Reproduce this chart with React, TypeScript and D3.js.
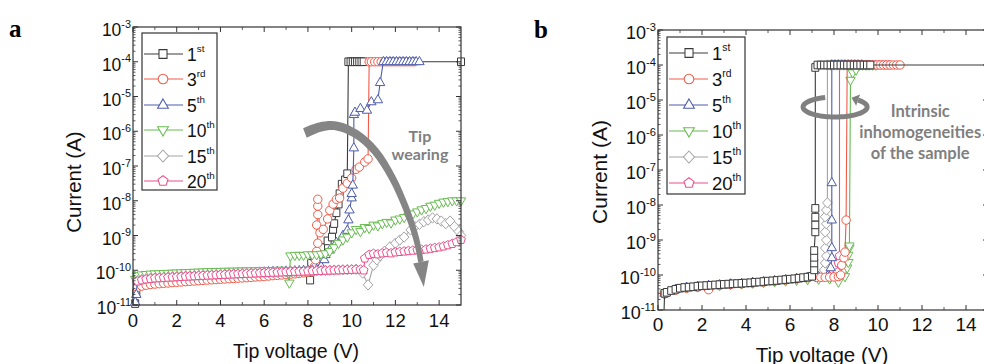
import React from 'react';
import * as d3 from 'd3';

type Pt = [number, number];

// ---------- shared labels ----------
const legendMain = ['1', '3', '5', '10', '15', '20'];
const legendSup = ['st', 'rd', 'th', 'th', 'th', 'th'];
const seriesColors = ['#3a3a3a', '#f15a48', '#4c5cab', '#66bb4f', '#a3a3a3', '#ec4f8c'];
const seriesShapes = ['square', 'circle', 'triangle', 'triangleDown', 'diamond', 'pentagon'];
const yTickExps = [-3, -4, -5, -6, -7, -8, -9, -10, -11];
const xTickValues = [0, 2, 4, 6, 8, 10, 12, 14];

// ---------- panel a data (V, A) ----------
const aFirst: Pt[] = [
  [0.1, 1.1e-11], [0.15, 2.2e-11], [0.2, 4.6e-11], [0.4, 5.0e-11], [0.6, 5.3e-11], [0.8, 5.5e-11], [1.0, 5.7e-11],
  [1.2, 5.8e-11], [1.4, 6.0e-11], [1.6, 6.1e-11], [1.8, 6.2e-11], [2.0, 6.3e-11], [2.2, 6.4e-11], [2.4, 6.5e-11],
  [2.6, 6.6e-11], [2.8, 6.7e-11], [3.0, 6.8e-11], [3.2, 6.9e-11], [3.4, 7.0e-11], [3.6, 7.1e-11], [3.8, 7.2e-11],
  [4.0, 7.3e-11], [4.2, 7.4e-11], [4.4, 7.5e-11], [4.6, 7.6e-11], [4.8, 7.7e-11], [5.0, 7.8e-11], [5.2, 7.9e-11],
  [5.4, 8.0e-11], [5.6, 8.1e-11], [5.8, 8.2e-11], [6.0, 8.3e-11], [6.2, 8.4e-11], [6.4, 8.5e-11], [6.6, 8.6e-11],
  [6.8, 8.7e-11], [7.0, 8.8e-11], [7.2, 8.9e-11], [7.4, 9.0e-11], [7.6, 9.1e-11], [7.8, 9.3e-11], [8.0, 9.5e-11],
  [8.1, 5.2e-11], [8.15, 1.6e-10], [8.3, 2.4e-10], [8.6, 4.5e-10], [8.9, 7e-10], [9.1, 9e-10], [9.15, 1.5e-9],
  [9.2, 2.2e-9], [9.3, 4.5e-9], [9.4, 8e-9], [9.45, 1.6e-8], [9.55, 3e-8], [9.7, 4e-8], [9.8, 6e-8],
  [9.85, 1e-4], [9.95, 1e-4], [10.05, 1e-4], [10.15, 1e-4], [10.25, 1e-4], [10.35, 1e-4], [10.45, 1e-4],
  [10.55, 1e-4], [15, 1e-4],
];
const aThird: Pt[] = [
  [0.2, 3.2e-11], [0.4, 3.5e-11], [0.6, 3.7e-11], [0.8, 3.9e-11], [1.0, 4.0e-11], [1.2, 4.1e-11], [1.4, 4.2e-11],
  [1.6, 4.3e-11], [1.8, 4.4e-11], [2.0, 4.5e-11], [2.2, 4.6e-11], [2.4, 4.7e-11], [2.6, 4.8e-11], [2.8, 4.9e-11],
  [3.0, 5.0e-11], [3.2, 5.1e-11], [3.4, 5.2e-11], [3.6, 5.3e-11], [3.8, 5.4e-11], [4.0, 5.5e-11], [4.2, 5.6e-11],
  [4.4, 5.7e-11], [4.6, 5.8e-11], [4.8, 5.9e-11], [5.0, 6.0e-11], [5.2, 6.1e-11], [5.4, 6.2e-11], [5.6, 6.4e-11],
  [5.8, 6.5e-11], [6.0, 6.6e-11], [6.2, 6.8e-11], [6.4, 7.0e-11], [6.6, 7.1e-11], [6.8, 7.3e-11], [7.0, 7.5e-11],
  [7.2, 7.7e-11], [7.4, 7.9e-11], [7.6, 8.1e-11], [7.8, 8.4e-11], [8.0, 8.7e-11], [8.2, 9.0e-11],
  [8.3, 1.3e-10], [8.35, 2.0e-10], [8.4, 3.5e-10], [8.45, 6e-10], [8.4, 2e-9], [8.45, 4e-9], [8.45, 7e-9],
  [8.45, 1.1e-8], [8.55, 1.2e-9], [8.7, 1.5e-9], [8.9, 3e-9], [9.0, 5.3e-9], [9.15, 8e-9], [9.3, 1.1e-8],
  [9.45, 1.2e-8], [9.6, 2.3e-8], [9.8, 3.2e-8], [10.0, 4.5e-8], [10.2, 8e-8], [10.35, 9.3e-8], [10.6, 1.3e-7],
  [10.75, 1.6e-7], [10.8, 1e-4], [10.9, 1e-4], [11.05, 1e-4], [11.2, 1e-4], [11.35, 1e-4], [11.5, 1e-4],
  [11.65, 1e-4], [11.8, 1e-4], [11.95, 1e-4], [12.1, 1e-4], [12.25, 1e-4], [12.4, 1e-4], [12.55, 1e-4],
  [12.7, 1e-4], [12.85, 1e-4],
];
const aFifth: Pt[] = [
  [0.1, 1.2e-11], [0.15, 2.0e-11], [0.2, 5.5e-11], [0.4, 5.9e-11], [0.6, 6.1e-11], [0.8, 6.3e-11], [1.0, 6.4e-11],
  [1.2, 6.5e-11], [1.4, 6.6e-11], [1.6, 6.7e-11], [1.8, 6.8e-11], [2.0, 6.9e-11], [2.2, 7.0e-11], [2.4, 7.1e-11],
  [2.6, 7.2e-11], [2.8, 7.3e-11], [3.0, 7.4e-11], [3.2, 7.5e-11], [3.4, 7.6e-11], [3.6, 7.7e-11], [3.8, 7.8e-11],
  [4.0, 7.9e-11], [4.2, 8.0e-11], [4.4, 8.1e-11], [4.6, 8.2e-11], [4.8, 8.3e-11], [5.0, 8.4e-11], [5.2, 8.5e-11],
  [5.4, 8.6e-11], [5.6, 8.7e-11], [5.8, 8.8e-11], [6.0, 8.9e-11], [6.2, 9.0e-11], [6.4, 9.1e-11], [6.6, 9.2e-11],
  [6.8, 9.3e-11], [7.0, 9.4e-11], [7.2, 9.5e-11], [7.4, 9.6e-11], [7.6, 9.7e-11], [7.8, 9.8e-11], [8.0, 1.0e-10],
  [8.2, 1.02e-10], [8.4, 1.05e-10], [8.6, 1.3e-10], [8.75, 2e-10], [8.8, 2.8e-10], [9.0, 3.8e-10], [9.3, 6.3e-10],
  [9.6, 1e-9], [9.8, 1.4e-9], [9.85, 2.8e-9], [9.9, 5.4e-9], [10.0, 1.2e-8], [10.0, 1.6e-8], [10.05, 2.8e-8],
  [10.1, 3.3e-7], [10.1, 3e-6], [10.15, 3.5e-6], [10.4, 4.5e-6], [10.7, 4e-6], [10.9, 7e-6], [11.2, 8e-6],
  [11.3, 2.5e-5], [11.45, 1e-4], [11.6, 1e-4], [11.75, 1e-4], [11.9, 1e-4], [12.05, 1e-4], [12.2, 1e-4],
  [12.35, 1e-4], [12.5, 1e-4], [12.65, 1e-4], [12.8, 1e-4], [12.95, 1e-4], [13.1, 1e-4],
];
const aTenth: Pt[] = [
  [0.1, 5.5e-11], [0.2, 7.0e-11], [0.4, 7.4e-11], [0.6, 7.6e-11], [0.8, 7.8e-11], [1.0, 7.9e-11], [1.2, 8.0e-11],
  [1.4, 8.1e-11], [1.6, 8.2e-11], [1.8, 8.3e-11], [2.0, 8.4e-11], [2.2, 8.5e-11], [2.4, 8.6e-11], [2.6, 8.7e-11],
  [2.8, 8.8e-11], [3.0, 8.9e-11], [3.2, 9.0e-11], [3.4, 9.1e-11], [3.6, 9.2e-11], [3.8, 9.3e-11], [4.0, 9.3e-11],
  [4.2, 9.4e-11], [4.4, 9.4e-11], [4.6, 9.5e-11], [4.8, 9.5e-11], [5.0, 9.6e-11], [5.2, 9.6e-11], [5.4, 9.7e-11],
  [5.6, 9.7e-11], [5.8, 9.8e-11], [6.0, 9.8e-11], [6.2, 9.9e-11], [6.4, 9.9e-11], [6.6, 1.0e-10], [6.8, 1.0e-10],
  [7.0, 1.0e-10], [7.15, 4.3e-11], [7.2, 2.6e-10], [7.4, 2.7e-10], [7.6, 2.7e-10], [7.8, 2.7e-10], [8.0, 2.8e-10],
  [8.2, 2.8e-10], [8.4, 2.8e-10], [8.6, 2.9e-10], [8.8, 3.0e-10], [9.0, 3.5e-10], [9.2, 4.5e-10], [9.4, 6e-10],
  [9.6, 7.5e-10], [9.8, 9e-10], [10.0, 1.2e-9], [10.2, 1.5e-9], [10.4, 1.3e-9], [10.6, 1.7e-9], [10.8, 1.6e-9],
  [11.0, 2.0e-9], [11.2, 1.9e-9], [11.4, 2.2e-9], [11.6, 2.4e-9], [11.8, 2.3e-9], [12.0, 2.8e-9], [12.2, 3.0e-9],
  [12.4, 3.3e-9], [12.6, 3.6e-9], [12.8, 4.2e-9], [13.0, 4.8e-9], [13.2, 5.5e-9], [13.4, 6.0e-9], [13.6, 7.0e-9],
  [13.8, 7.5e-9], [14.0, 8.5e-9], [14.2, 9.2e-9], [14.4, 9.5e-9], [14.6, 1e-8], [14.8, 1e-8], [15.0, 1e-8],
];
const aFifteenth: Pt[] = [
  [0.2, 5.0e-11], [0.4, 5.4e-11], [0.6, 5.7e-11], [0.8, 5.9e-11], [1.0, 6.0e-11], [1.2, 6.1e-11], [1.4, 6.2e-11],
  [1.6, 6.3e-11], [1.8, 6.4e-11], [2.0, 6.5e-11], [2.2, 6.6e-11], [2.4, 6.7e-11], [2.6, 6.8e-11], [2.8, 6.9e-11],
  [3.0, 7.0e-11], [3.2, 7.1e-11], [3.4, 7.2e-11], [3.6, 7.3e-11], [3.8, 7.4e-11], [4.0, 7.5e-11], [4.2, 7.6e-11],
  [4.4, 7.7e-11], [4.6, 7.8e-11], [4.8, 7.9e-11], [5.0, 8.0e-11], [5.2, 8.1e-11], [5.4, 8.2e-11], [5.6, 8.3e-11],
  [5.8, 8.4e-11], [6.0, 8.5e-11], [6.2, 8.6e-11], [6.4, 8.7e-11], [6.6, 8.8e-11], [6.8, 8.9e-11], [7.0, 9.0e-11],
  [7.2, 9.1e-11], [7.4, 9.2e-11], [7.6, 9.3e-11], [7.8, 9.4e-11], [8.0, 9.5e-11], [8.2, 9.6e-11], [8.4, 9.7e-11],
  [8.6, 9.8e-11], [8.8, 9.9e-11], [9.0, 1.0e-10], [9.2, 1.01e-10], [9.4, 1.02e-10], [9.6, 1.03e-10], [9.8, 1.04e-10],
  [10.0, 1.05e-10], [10.2, 1.06e-10], [10.5, 8.3e-11], [10.75, 3.8e-11], [11.0, 1.4e-10], [11.15, 2.0e-10],
  [11.3, 2.6e-10], [11.5, 3.5e-10], [11.75, 4.7e-10], [12.0, 6.0e-10], [12.2, 7.4e-10], [12.4, 9.0e-10],
  [12.7, 1.45e-9], [12.9, 1.8e-9], [13.1, 2.1e-9], [13.3, 2.5e-9], [13.5, 2.8e-9], [13.7, 3.2e-9], [13.9, 3.0e-9],
  [14.1, 2.6e-9], [14.3, 2.2e-9], [14.5, 2.6e-9], [14.7, 1.8e-9], [14.9, 1.3e-9], [15.0, 1.0e-9],
];
const aTwentieth: Pt[] = [
  [0.2, 4.8e-11], [0.4, 5.2e-11], [0.6, 5.5e-11], [0.8, 5.7e-11], [1.0, 5.9e-11], [1.2, 6.0e-11], [1.4, 6.1e-11],
  [1.6, 6.2e-11], [1.8, 6.3e-11], [2.0, 6.4e-11], [2.2, 6.5e-11], [2.4, 6.6e-11], [2.6, 6.7e-11], [2.8, 6.8e-11],
  [3.0, 6.9e-11], [3.2, 7.0e-11], [3.4, 7.1e-11], [3.6, 7.2e-11], [3.8, 7.3e-11], [4.0, 7.4e-11], [4.2, 7.5e-11],
  [4.4, 7.6e-11], [4.6, 7.7e-11], [4.8, 7.8e-11], [5.0, 7.9e-11], [5.2, 8.0e-11], [5.4, 8.1e-11], [5.6, 8.2e-11],
  [5.8, 8.3e-11], [6.0, 8.4e-11], [6.2, 8.5e-11], [6.4, 8.6e-11], [6.6, 8.7e-11], [6.8, 8.8e-11], [7.0, 8.9e-11],
  [7.2, 9.0e-11], [7.4, 9.1e-11], [7.6, 9.2e-11], [7.8, 9.3e-11], [8.0, 9.4e-11], [8.2, 9.5e-11], [8.4, 9.6e-11],
  [8.6, 9.7e-11], [8.8, 9.8e-11], [9.0, 9.9e-11], [9.2, 1.0e-10], [9.4, 1.01e-10], [9.6, 1.02e-10], [9.8, 1.03e-10],
  [10.0, 1.04e-10], [10.2, 1.05e-10], [10.4, 1.05e-10], [10.55, 1.0e-10], [10.6, 2.2e-10], [10.8, 2.8e-10],
  [11.0, 3.0e-10], [11.2, 2.9e-10], [11.4, 3.1e-10], [11.6, 3.2e-10], [11.8, 3.1e-10], [12.0, 3.3e-10],
  [12.2, 3.4e-10], [12.4, 3.5e-10], [12.6, 3.6e-10], [12.8, 3.7e-10], [13.0, 3.8e-10], [13.2, 3.9e-10],
  [13.4, 4.0e-10], [13.6, 4.2e-10], [13.8, 4.4e-10], [14.0, 4.6e-10], [14.2, 4.9e-10], [14.4, 5.3e-10],
  [14.6, 5.8e-10], [14.8, 6.5e-10], [15.0, 7.5e-10],
];

// ---------- panel b data (V, A) ----------
const bFirst: Pt[] = [
  [0.25, 3e-12], [0.3, 3.0e-11], [0.4, 3.2e-11], [0.6, 3.6e-11], [0.8, 3.9e-11], [1.0, 4.2e-11], [1.2, 4.4e-11],
  [1.4, 4.5e-11], [1.6, 4.6e-11], [1.8, 4.8e-11], [2.0, 4.9e-11], [2.2, 5.0e-11], [2.4, 5.1e-11], [2.6, 5.2e-11],
  [2.8, 5.3e-11], [3.0, 5.4e-11], [3.2, 5.5e-11], [3.4, 5.6e-11], [3.6, 5.7e-11], [3.8, 5.8e-11], [4.0, 5.9e-11],
  [4.2, 6.0e-11], [4.4, 6.2e-11], [4.6, 6.3e-11], [4.8, 6.5e-11], [5.0, 6.7e-11], [5.2, 6.8e-11], [5.4, 7.0e-11],
  [5.6, 7.2e-11], [5.8, 7.4e-11], [6.0, 7.6e-11], [6.2, 7.8e-11], [6.4, 8.1e-11], [6.6, 8.4e-11], [6.8, 8.7e-11],
  [7.0, 9.2e-11], [7.1, 1.4e-10], [7.1, 2.2e-10], [7.1, 3.2e-10], [7.1, 5e-10], [7.15, 1.7e-9], [7.15, 2.7e-9],
  [7.15, 4.5e-9], [7.15, 8e-9], [7.15, 8.5e-5], [7.25, 1e-4], [7.4, 1e-4], [7.55, 1e-4], [7.7, 1e-4], [7.85, 1e-4],
  [8.0, 1e-4], [8.15, 1e-4], [8.3, 1e-4], [8.45, 1e-4], [8.6, 1e-4], [8.75, 1e-4], [8.9, 1e-4], [9.05, 1e-4],
  [9.2, 1e-4], [9.35, 1e-4], [9.5, 1e-4], [9.65, 1e-4], [15, 1e-4],
];
const bThird: Pt[] = [
  [0.3, 2.9e-11], [0.8, 3.7e-11], [1.3, 4.2e-11], [1.8, 4.5e-11], [2.3, 3.8e-11], [2.8, 5.1e-11], [3.3, 5.4e-11],
  [3.8, 5.6e-11], [4.3, 5.9e-11], [4.8, 6.3e-11], [5.3, 6.7e-11], [5.8, 7.2e-11], [6.3, 7.8e-11], [6.8, 8.4e-11],
  [7.2, 8.5e-11], [7.4, 8.6e-11], [7.6, 8.6e-11], [7.8, 8.7e-11], [8.0, 8.8e-11], [8.2, 9.0e-11], [8.3, 1.0e-10],
  [8.35, 1.9e-10], [8.45, 3.1e-10], [8.5, 4.5e-10], [8.55, 3.7e-9], [8.6, 1e-4], [8.75, 1e-4], [8.9, 1e-4],
  [9.05, 1e-4], [9.2, 1e-4], [9.35, 1e-4], [9.5, 1e-4], [9.65, 1e-4], [9.8, 1e-4], [9.95, 1e-4], [10.1, 1e-4],
  [10.25, 1e-4], [10.4, 1e-4], [10.55, 1e-4], [10.7, 1e-4], [10.85, 1e-4], [11.0, 1e-4],
];
const bFifth: Pt[] = [
  [0.3, 3.0e-11], [0.8, 3.9e-11], [1.3, 4.4e-11], [1.8, 4.7e-11], [2.3, 5.0e-11], [2.8, 5.2e-11], [3.3, 5.5e-11],
  [3.8, 5.7e-11], [4.3, 6.1e-11], [4.8, 6.4e-11], [5.3, 6.8e-11], [5.8, 7.3e-11], [6.3, 7.9e-11], [6.8, 8.6e-11],
  [7.3, 8.9e-11], [7.7, 9.2e-11], [7.85, 1.6e-10], [7.9, 3.1e-10], [7.9, 6e-10], [7.9, 3.7e-9], [7.9, 4.3e-8],
  [7.9, 1e-4], [8.05, 1e-4], [8.2, 1e-4], [8.35, 1e-4], [8.5, 1e-4], [8.65, 1e-4], [8.8, 1e-4], [8.95, 1e-4],
  [9.1, 1e-4], [9.25, 1e-4],
];
const bTenth: Pt[] = [
  [0.3, 2.9e-11], [0.8, 3.8e-11], [1.3, 4.3e-11], [1.8, 4.6e-11], [2.3, 4.9e-11], [2.8, 5.1e-11], [3.3, 5.4e-11],
  [3.8, 5.6e-11], [4.3, 5.9e-11], [4.8, 6.2e-11], [5.3, 6.5e-11], [5.8, 6.8e-11], [6.3, 7.1e-11], [6.8, 7.4e-11],
  [7.3, 7.6e-11], [7.8, 7.8e-11], [8.2, 6.3e-11], [8.5, 9e-11], [8.6, 1.6e-10], [8.65, 2.3e-10], [8.65, 3.7e-10],
  [8.7, 5.9e-10], [8.7, 6.8e-10], [8.75, 3.7e-5], [8.85, 6e-5], [9.0, 7.2e-5], [9.15, 1e-4], [9.3, 1e-4],
  [9.45, 1e-4], [9.6, 1e-4], [9.75, 1e-4], [9.9, 1e-4],
];
const bFifteenth: Pt[] = [
  [0.3, 3.0e-11], [0.8, 3.9e-11], [1.3, 4.4e-11], [1.8, 4.7e-11], [2.3, 5.0e-11], [2.8, 5.2e-11], [3.3, 5.5e-11],
  [3.8, 5.7e-11], [4.3, 6.1e-11], [4.8, 6.4e-11], [5.3, 6.8e-11], [5.8, 7.3e-11], [6.3, 7.9e-11], [6.8, 8.6e-11],
  [7.3, 8.9e-11], [7.5, 9.1e-11], [7.55, 1.4e-10], [7.6, 2.2e-10], [7.65, 3.5e-10], [7.6, 5.9e-10], [7.65, 1e-9],
  [7.6, 1.7e-9], [7.65, 2.9e-9], [7.6, 4.6e-9], [7.65, 7.2e-9], [7.7, 1.15e-8], [7.7, 1e-4], [7.85, 1e-4],
  [8.0, 1e-4], [8.15, 1e-4], [8.3, 1e-4], [8.45, 1e-4], [8.6, 1e-4], [8.75, 1e-4], [8.9, 1e-4], [9.05, 1e-4],
];
const bTwentieth: Pt[] = [
  [0.3, 3.0e-11], [0.8, 3.9e-11], [1.3, 4.4e-11], [1.8, 4.7e-11], [2.3, 5.0e-11], [2.8, 5.2e-11], [3.3, 5.5e-11],
  [3.8, 5.7e-11], [4.3, 6.1e-11], [4.8, 6.4e-11], [5.3, 6.8e-11], [5.8, 7.3e-11], [6.3, 7.9e-11], [6.8, 8.5e-11],
  [7.3, 8.8e-11], [7.8, 9.0e-11], [8.0, 9.1e-11], [8.15, 1.2e-10], [8.2, 2.2e-10], [8.25, 3.5e-10], [8.25, 1e-4],
  [8.4, 1e-4], [8.55, 1e-4], [8.7, 1e-4], [8.85, 1e-4], [9.0, 1e-4], [9.15, 1e-4], [9.3, 1e-4], [9.45, 1e-4],
  [9.6, 1e-4], [9.75, 1e-4], [9.9, 1e-4], [10.05, 1e-4], [10.2, 1e-4], [10.35, 1e-4], [10.5, 1e-4],
];

// ---------- annotations (data coordinates: V, log10 I) ----------
const wearArrowV = [7.86, 8.55, 9.33, 10.2, 11.07, 11.84, 12.48, 12.94, 13.17];
const wearArrowLogI = [-6.05, -5.88, -5.85, -6.08, -6.57, -7.32, -8.21, -9.07, -9.76];
const wearArrowTip: [number, number] = [13.3, -10.48];
const wearText = ['Tip', 'wearing'];
const wearTextPos: [number, number][] = [[13.12, -6.31], [13.12, -6.84]];
const ringCenter: [number, number] = [8.05, -5.2];
const inhomText = ['Intrinsic', 'inhomogeneities', 'of the sample'];
const inhomTextPos: [number, number][] = [[11.92, -5.49], [11.92, -6.09], [11.92, -6.69]];

function markerPath(shape: string): string {
  switch (shape) {
    case 'square':
      return 'M-3.5,-3.8H3.5V3.8H-3.5Z';
    case 'circle':
      return 'M4.2,0A4.2,4.2 0 1 1 -4.2,0A4.2,4.2 0 1 1 4.2,0Z';
    case 'triangle':
      return 'M0,-5.3L4.7,2.9L-4.7,2.9Z';
    case 'triangleDown':
      return 'M0,5.3L4.7,-2.9L-4.7,-2.9Z';
    case 'diamond':
      return 'M0,-5.2L4.8,0L0,5.2L-4.8,0Z';
    default: {
      const r = 4.6;
      const pts = d3.range(5).map((k) => {
        const a = ((-90 + 72 * k) * Math.PI) / 180;
        return [r * Math.cos(a), r * Math.sin(a)];
      });
      return 'M' + pts.map((p) => p[0].toFixed(2) + ',' + p[1].toFixed(2)).join('L') + 'Z';
    }
  }
}

interface PanelCfg {
  id: string;
  letter: string;
  letterX: number;
  letterY: number;
  left: number;
  right: number;
  top: number;
  bottom: number;
  yLabelRight: number;
  xLabelBaseline: number;
  yTitleX: number;
  yTitleY: number;
  xTitleX: number;
  xTitleY: number;
  titleSize: number;
  yTitleSize: number;
  tickSize: number;
  legend: { x: number; y: number; w: number; h: number; l1: number; l2: number; mx: number; tx: number; rows: number[]; fs: number };
  series: Pt[][];
  order: number[];
}

const FONT = 'Arial, "Liberation Sans", Helvetica, sans-serif';
const NOTE_FONT = 'Lato, "Open Sans", sans-serif';
const AXIS_COLOR = '#333';
const NOTE_COLOR = '#7f7f7f';

function Panel({ cfg, children }: { cfg: PanelCfg; children?: (x: any, y: any) => React.ReactNode }) {
  const x = d3.scaleLinear().domain([0, 15]).range([cfg.left, cfg.right]);
  const y = d3.scaleLog().domain([1e-11, 1e-3]).range([cfg.bottom, cfg.top]);
  const line = d3
    .line<Pt>()
    .x((d) => x(d[0]))
    .y((d) => y(d[1]));

  const minorY: number[] = [];
  for (let e = -11; e < -3; e++) for (let m = 2; m <= 9; m++) minorY.push(m * Math.pow(10, e));
  const minorX = d3.range(1, 15, 2);

  const lineClip = `lc-${cfg.id}`;
  const markClip = `mc-${cfg.id}`;

  return (
    <g>
      <defs>
        <clipPath id={lineClip}>
          <rect x={cfg.left} y={cfg.top} width={cfg.right - cfg.left} height={cfg.bottom - cfg.top} />
        </clipPath>
        <clipPath id={markClip}>
          <rect x={cfg.left - 7} y={cfg.top - 7} width={cfg.right - cfg.left + 14} height={cfg.bottom - cfg.top + 14} />
        </clipPath>
      </defs>
      <text x={cfg.letterX} y={cfg.letterY} fontFamily='"Times New Roman", "Liberation Serif", serif' fontWeight="bold" fontSize={25} fill="#000">
        {cfg.letter}
      </text>

      {/* series */}
      {cfg.order.map((i) => (
        <g key={i}>
          <path d={line(cfg.series[i]) || ''} fill="none" stroke={seriesColors[i]} strokeWidth={1.1} clipPath={`url(#${lineClip})`} />
          <g clipPath={`url(#${markClip})`}>
            {cfg.series[i].map((d, j) => (
              <path
                key={j}
                d={markerPath(seriesShapes[i])}
                transform={`translate(${x(d[0]).toFixed(2)},${y(d[1]).toFixed(2)})`}
                fill="#fff"
                stroke={seriesColors[i]}
                strokeWidth={1}
              />
            ))}
          </g>
        </g>
      ))}

      {children && children(x, y)}

      {/* frame */}
      <rect x={cfg.left} y={cfg.top} width={cfg.right - cfg.left} height={cfg.bottom - cfg.top} fill="none" stroke={AXIS_COLOR} strokeWidth={1.2} />
      {/* y ticks */}
      {yTickExps.map((e) => {
        const yy = y(Math.pow(10, e));
        return (
          <g key={'ym' + e}>
            <line x1={cfg.left} x2={cfg.left + 5} y1={yy} y2={yy} stroke={AXIS_COLOR} />
            <line x1={cfg.right} x2={cfg.right - 5} y1={yy} y2={yy} stroke={AXIS_COLOR} />
          </g>
        );
      })}
      {minorY.map((v, k) => {
        const yy = y(v);
        return (
          <g key={'yn' + k}>
            <line x1={cfg.left} x2={cfg.left + 2.5} y1={yy} y2={yy} stroke={AXIS_COLOR} strokeWidth={0.8} />
            <line x1={cfg.right} x2={cfg.right - 2.5} y1={yy} y2={yy} stroke={AXIS_COLOR} strokeWidth={0.8} />
          </g>
        );
      })}
      {/* x ticks */}
      {xTickValues.map((v) => (
        <g key={'xm' + v}>
          <line x1={x(v)} x2={x(v)} y1={cfg.bottom} y2={cfg.bottom - 5} stroke={AXIS_COLOR} />
          <line x1={x(v)} x2={x(v)} y1={cfg.top} y2={cfg.top + 5} stroke={AXIS_COLOR} />
        </g>
      ))}
      {minorX.map((v) => (
        <g key={'xn' + v}>
          <line x1={x(v)} x2={x(v)} y1={cfg.bottom} y2={cfg.bottom - 3} stroke={AXIS_COLOR} strokeWidth={0.8} />
          <line x1={x(v)} x2={x(v)} y1={cfg.top} y2={cfg.top + 3} stroke={AXIS_COLOR} strokeWidth={0.8} />
        </g>
      ))}

      {/* tick labels */}
      {yTickExps.map((e) => (
        <text key={'yl' + e} x={cfg.yLabelRight} y={y(Math.pow(10, e)) + 9} textAnchor="end" fontFamily={FONT} fontSize={cfg.tickSize} fill="#111">
          10
          <tspan dy={-8.5} fontSize={cfg.tickSize * 0.62}>
            {String(e)}
          </tspan>
        </text>
      ))}
      {xTickValues.map((v) => (
        <text key={'xl' + v} x={x(v)} y={cfg.xLabelBaseline} textAnchor="middle" fontFamily={FONT} fontSize={cfg.tickSize + 1} fill="#111">
          {v}
        </text>
      ))}

      {/* axis titles */}
      <text x={cfg.xTitleX} y={cfg.xTitleY} textAnchor="middle" fontFamily={FONT} fontSize={cfg.titleSize} fill="#111">
        Tip voltage (V)
      </text>
      <text
        transform={`translate(${cfg.yTitleX},${cfg.yTitleY}) rotate(-90)`}
        textAnchor="middle"
        dominantBaseline="central"
        fontFamily={FONT}
        fontSize={cfg.yTitleSize}
        fill="#111"
      >
        Current (A)
      </text>

      {/* legend */}
      <rect x={cfg.legend.x} y={cfg.legend.y} width={cfg.legend.w} height={cfg.legend.h} fill="#fff" stroke={AXIS_COLOR} strokeWidth={1.2} />
      {legendMain.map((m, i) => {
        const ry = cfg.legend.rows[i];
        return (
          <g key={'lg' + i}>
            <line x1={cfg.legend.l1} x2={cfg.legend.l2} y1={ry} y2={ry} stroke={seriesColors[i]} strokeWidth={1.1} />
            <path d={markerPath(seriesShapes[i])} transform={`translate(${cfg.legend.mx},${ry}) scale(1.15)`} fill="#fff" stroke={seriesColors[i]} strokeWidth={0.9} />
            <text x={cfg.legend.tx} y={ry + 7} fontFamily={FONT} fontSize={cfg.legend.fs} fill="#111">
              {m}
              <tspan dy={-9} fontSize={cfg.legend.fs * 0.56}>
                {legendSup[i]}
              </tspan>
            </text>
          </g>
        );
      })}
    </g>
  );
}

const panelA: PanelCfg = {
  id: 'a',
  letter: 'a',
  letterX: 9,
  letterY: 37,
  left: 133,
  right: 461,
  top: 27,
  bottom: 305,
  yLabelRight: 131,
  xLabelBaseline: 327,
  yTitleX: 73,
  yTitleY: 182,
  xTitleX: 296,
  xTitleY: 358,
  titleSize: 19.5,
  yTitleSize: 20.5,
  tickSize: 17.5,
  legend: { x: 142, y: 33, w: 75, h: 157, l1: 144, l2: 183, mx: 163, tx: 187, rows: [54, 79, 105, 130, 156, 181], fs: 17.5 },
  series: [aFirst, aThird, aFifth, aTenth, aFifteenth, aTwentieth],
  order: [0, 1, 2, 3, 4, 5],
};

const panelB: PanelCfg = {
  id: 'b',
  letter: 'b',
  letterX: 534,
  letterY: 38,
  left: 658,
  right: 988,
  top: 30,
  bottom: 310,
  yLabelRight: 656,
  xLabelBaseline: 331,
  yTitleX: 599,
  yTitleY: 172,
  xTitleX: 822,
  xTitleY: 362,
  titleSize: 20.5,
  yTitleSize: 21,
  tickSize: 18,
  legend: { x: 667, y: 37, w: 78, h: 157, l1: 669, l2: 708, mx: 689, tx: 712, rows: [53, 79, 105, 131, 157, 183], fs: 18.5 },
  series: [bFirst, bThird, bFifth, bTenth, bFifteenth, bTwentieth],
  order: [5, 4, 3, 2, 1, 0],
};

function WearArrow(x: any, y: any) {
  const pts = wearArrowV.map((v, i) => [x(v), y(Math.pow(10, wearArrowLogI[i]))] as [number, number]);
  const n = pts.length;
  const widths = pts.map((_, i) => 10 - (4.5 * i) / (n - 1));
  const left: [number, number][] = [];
  const right: [number, number][] = [];
  pts.forEach((p, i) => {
    const a = pts[Math.max(0, i - 1)];
    const b = pts[Math.min(n - 1, i + 1)];
    const dx = b[0] - a[0];
    const dy = b[1] - a[1];
    const len = Math.hypot(dx, dy) || 1;
    const nx = -dy / len;
    const ny = dx / len;
    left.push([p[0] + (nx * widths[i]) / 2, p[1] + (ny * widths[i]) / 2]);
    right.push([p[0] - (nx * widths[i]) / 2, p[1] - (ny * widths[i]) / 2]);
  });
  const curve = d3.line().curve(d3.curveCatmullRom.alpha(0.5));
  const body = (curve(left) || '') + 'L' + (curve(right.slice().reverse()) || '').slice(1) + 'Z';
  const end = pts[n - 1];
  const prev = pts[n - 2];
  const tip: [number, number] = [x(wearArrowTip[0]), y(Math.pow(10, wearArrowTip[1]))];
  const dx = end[0] - prev[0];
  const dy = end[1] - prev[1];
  const len = Math.hypot(dx, dy) || 1;
  const nx = -dy / len;
  const ny = dx / len;
  const hw = 8;
  const head = `M${end[0] + nx * hw},${end[1] + ny * hw}L${tip[0]},${tip[1]}L${end[0] - nx * hw},${end[1] - ny * hw}Z`;
  return (
    <g>
      <path d={body} fill="#858585" />
      <path d={head} fill="#858585" />
      {wearText.map((t, i) => (
        <text key={t} x={x(wearTextPos[i][0])} y={y(Math.pow(10, wearTextPos[i][1]))} textAnchor="middle" fontFamily={NOTE_FONT} fontWeight="bold" fontSize={16} fill={NOTE_COLOR}>
          {t}
        </text>
      ))}
    </g>
  );
}

function RingArrow(x: any, y: any) {
  const cx = x(ringCenter[0]);
  const cy = y(Math.pow(10, ringCenter[1]));
  const rx = 32;
  const ry = 10;
  const angles = d3.range(-108, -405, -4);
  const pts = angles.map((a) => [cx + rx * Math.cos((a * Math.PI) / 180), cy + ry * Math.sin((a * Math.PI) / 180)] as [number, number]);
  const ring = d3.line()(pts) || '';
  const e = pts[pts.length - 1];
  const p = pts[pts.length - 2];
  const dx = e[0] - p[0];
  const dy = e[1] - p[1];
  const len = Math.hypot(dx, dy) || 1;
  const ux = dx / len;
  const uy = dy / len;
  const head = `M${e[0] - uy * 6},${e[1] + ux * 6}L${e[0] + ux * 7},${e[1] + uy * 7}L${e[0] + uy * 6},${e[1] - ux * 6}Z`;
  return (
    <g>
      <path d={ring} fill="none" stroke="#808080" strokeWidth={5} />
      <path d={head} fill="#808080" />
      {inhomText.map((t, i) => (
        <text key={t} x={x(inhomTextPos[i][0])} y={y(Math.pow(10, inhomTextPos[i][1]))} textAnchor="middle" fontFamily={NOTE_FONT} fontWeight="bold" fontSize={16.5} fill={NOTE_COLOR}>
          {t}
        </text>
      ))}
    </g>
  );
}

export default function App() {
  return (
    <svg width={984} height={364} viewBox="0 0 984 364" style={{ position: 'absolute', left: 0, top: 0, background: '#fff' }}>
      <rect x={0} y={0} width={984} height={364} fill="#fff" />
      <Panel cfg={panelA}>{WearArrow}</Panel>
      <Panel cfg={panelB}>{RingArrow}</Panel>
    </svg>
  );
}
